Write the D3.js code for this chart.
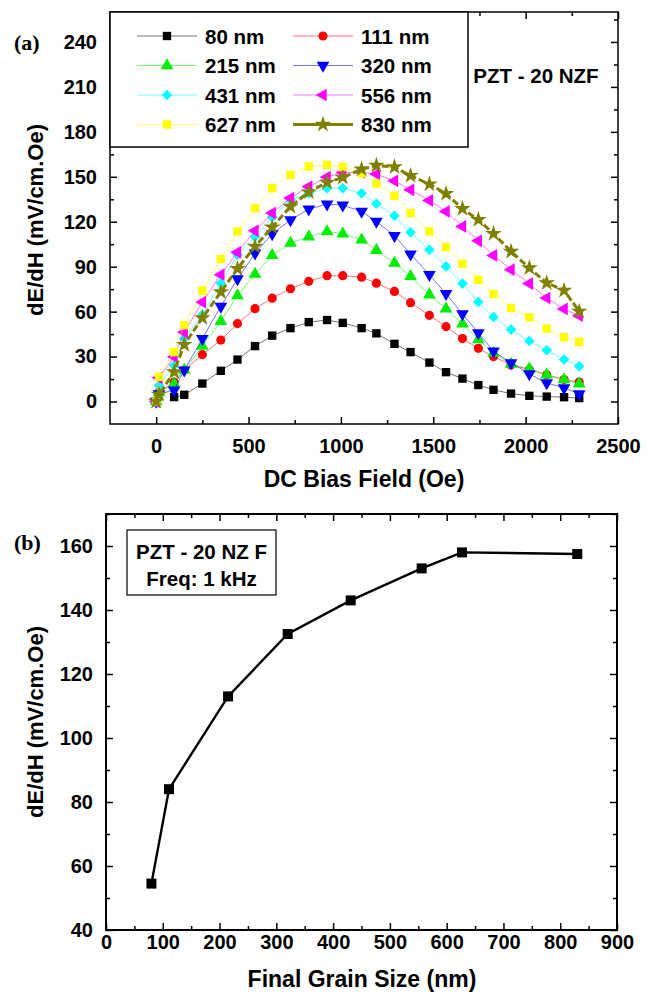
<!DOCTYPE html>
<html>
<head>
<meta charset="utf-8">
<script src="https://cdn.jsdelivr.net/npm/d3@7"></script>
<style>
  body { margin: 0; background: #fff; }
  svg { display: block; font-family: "Liberation Sans", Arial, sans-serif; font-weight: bold; }
</style>
</head>
<body>
<div id="chart"></div>
<script>
// panel (a): dE/dH vs DC bias field, one series per grain size
var fieldOe = [0, 15, 97, 152, 250, 350, 440, 535, 628, 727, 826, 925, 1010, 1112, 1192, 1290, 1377, 1479, 1569, 1658, 1744, 1826, 1921, 2020, 2114, 2208, 2290];
var grain80  = [0, null, 3, 4.5, 12, 20.5, 28, 37, 44, 49, 53, 54.4, 52.5, 49, 45.5, 38.5, 33, 26, 19.6, 15.3, 11, 7.8, 5.3, 3.8, 3.3, 2.9, 2.3];
var grain111 = [0, 6, 13, 21, 31.3, 41, 52, 62, 69, 75.3, 80.2, 84, 84, 83, 79, 73.5, 66, 57.5, 50, 42, 35.5, 30, 24.4, 21.3, 17.8, 14.7, 13];
var grain215 = [0, 6, 11.8, 21, 37, 53.5, 70.7, 85, 97.5, 105.8, 110, 113.5, 112, 108, 101, 92.4, 83.5, 71.3, 61.8, 51.8, 41.3, 32.4, 25, 21.8, 17.8, 14.7, 11.8];
var grain320 = [0, 5, 7.6, 21, 42, 63.5, 81.8, 99, 111.8, 121.3, 128.4, 131.8, 131, 126.9, 120.2, 110.7, 98.4, 84.7, 72, 58.4, 45.8, 33.6, 25.8, 18.4, 12.4, 9.1, 5.1];
var grain431 = [0, 10.7, 24, 42, 58, 79, 98, 110, 123, 134.7, 139, 142.4, 142.4, 139, 132, 124, 113, 101.3, 90.2, 78.7, 66.4, 56.4, 48, 40.4, 34.2, 28, 23.6];
var grain556 = [0, 15.8, 29.8, 46.2, 66.4, 84.7, 99.6, 114, 125.8, 135.8, 143.5, 149.8, 152.9, 153, 151.8, 147.3, 141.3, 134.2, 126.9, 116.9, 107.3, 97.5, 88, 78.7, 69.1, 61.8, 57.3];
var grain627 = [0, 16.5, 33, 50.9, 74, 95, 113.5, 129, 142.4, 151.3, 156.9, 158, 156.5, 152.4, 145.5, 137.3, 125.8, 113.5, 103, 92, 81.3, 71.8, 62.4, 56.2, 48.7, 42.9, 39.8];
var grain830 = [0, 4.7, 19.8, 38, 55.8, 73.1, 88.7, 103.5, 116.4, 130.2, 139.8, 146.2, 149.5, 155.1, 157.5, 156.5, 150.7, 145.1, 138.7, 128.7, 121.3, 112, 100.2, 89.1, 79.1, 74.2, 60.2];
var seriesNames = ["80 nm", "111 nm", "215 nm", "320 nm", "431 nm", "556 nm", "627 nm", "830 nm"];
var fieldTicks = [0, 500, 1000, 1500, 2000, 2500];
var dedhTicksA = [0, 30, 60, 90, 120, 150, 180, 210, 240];

// panel (b): peak dE/dH vs final grain size
var grainSize = [80, 111, 215, 320, 431, 556, 627, 830];
var peakDEdH = [54.5, 84, 113, 132.5, 143, 153, 158, 157.5];
var grainTicks = [0, 100, 200, 300, 400, 500, 600, 700, 800, 900];
var dedhTicksB = [40, 60, 80, 100, 120, 140, 160];

var svg = d3.select("#chart").append("svg")
    .attr("width", 650)
    .attr("height", 994);

// style for each series (colour, marker, rotation)
var styles = [
    {color: "#000000", sym: d3.symbolSquare, size: 70, rot: 0},
    {color: "#ff0000", sym: d3.symbolCircle, size: 66, rot: 0},
    {color: "#00ee00", sym: d3.symbolTriangle, size: 70, rot: 0},
    {color: "#0000ff", sym: d3.symbolTriangle, size: 70, rot: 180},
    {color: "#00ffff", sym: d3.symbolSquare, size: 56, rot: 45},
    {color: "#ff00ff", sym: d3.symbolTriangle, size: 70, rot: -90},
    {color: "#ffff00", sym: d3.symbolSquare, size: 70, rot: 0},
    {color: "#808000", sym: d3.symbolStar, size: 85, rot: 0}
];
var allSeries = [grain80, grain111, grain215, grain320, grain431, grain556, grain627, grain830];

/* draws the boxed frame with inward ticks on all four sides */
function drawFrame(g, x, y, xMajor, xMinor, yMajor, yMinor, frameW, xPad) {
    var w = x.range()[1], h = y.range()[0];
    g.append("g").attr("transform", "translate(0," + h + ")")
        .call(d3.axisBottom(x).tickValues(xMajor).tickSize(-7).tickPadding(xPad).tickFormat(d3.format("d")));
    g.append("g").attr("transform", "translate(0," + h + ")")
        .call(d3.axisBottom(x).tickValues(xMinor).tickSize(-4).tickFormat(""));
    g.append("g").call(d3.axisTop(x).tickValues(xMajor).tickSize(-7).tickFormat(""));
    g.append("g").call(d3.axisTop(x).tickValues(xMinor).tickSize(-4).tickFormat(""));
    g.append("g")
        .call(d3.axisLeft(y).tickValues(yMajor).tickSize(-7).tickPadding(13).tickFormat(d3.format("d")));
    g.append("g").call(d3.axisLeft(y).tickValues(yMinor).tickSize(-4).tickFormat(""));
    g.append("g").attr("transform", "translate(" + w + ",0)")
        .call(d3.axisRight(y).tickValues(yMajor).tickSize(-7).tickFormat(""));
    g.append("g").attr("transform", "translate(" + w + ",0)")
        .call(d3.axisRight(y).tickValues(yMinor).tickSize(-4).tickFormat(""));
    g.selectAll(".domain").remove();
    g.selectAll(".tick line").attr("stroke", "#000").attr("stroke-width", 1.5);
    g.selectAll(".tick text")
        .attr("font-size", 20)
        .attr("font-family", "Liberation Sans, Arial, sans-serif")
        .attr("font-weight", "bold")
        .attr("fill", "#000");
    g.append("rect")
        .attr("width", w).attr("height", h)
        .attr("fill", "none").attr("stroke", "#000").attr("stroke-width", frameW);
}

function symbolPath(s) {
    return d3.symbol().type(s.sym).size(s.size)();
}

// ---------- panel (a) ----------
var posA = {left: 110, top: 12, width: 508, height: 412};
var gA = svg.append("g").attr("transform", "translate(" + posA.left + "," + posA.top + ")");
var xA = d3.scaleLinear().domain([-250, 2500]).range([0, posA.width]);
var yA = d3.scaleLinear().domain([-15, 260]).range([posA.height, 0]);

drawFrame(gA, xA, yA, fieldTicks, [250, 750, 1250, 1750, 2250],
    dedhTicksA, [15, 45, 75, 105, 135, 165, 195, 225, 255], 1.5, 15);

var lineA = d3.line()
    .defined(function (d) { return d[1] !== null; })
    .x(function (d) { return xA(d[0]); })
    .y(function (d) { return yA(d[1]); });

allSeries.forEach(function (vals, i) {
    var s = styles[i];
    var pts = fieldOe.map(function (f, k) { return [f, vals[k]]; });
    var last = i === 7;
    gA.append("path")
        .attr("d", lineA(pts))
        .attr("fill", "none")
        .attr("stroke", s.color)
        .attr("stroke-opacity", last ? 1 : 0.55)
        .attr("stroke-width", last ? 3 : 1)
        .attr("stroke-dasharray", last ? "7,3" : null);
    gA.append("g").selectAll("path")
        .data(pts.filter(function (d) { return d[1] !== null; }))
        .enter().append("path")
        .attr("d", symbolPath(s))
        .attr("fill", s.color)
        .attr("transform", function (d) {
            return "translate(" + xA(d[0]) + "," + yA(d[1]) + ") rotate(" + s.rot + ")";
        });
});

// legend box
var legend = gA.append("g");
legend.append("rect")
    .attr("x", 0).attr("y", 0).attr("width", 358).attr("height", 135)
    .attr("fill", "#fff").attr("stroke", "#000").attr("stroke-width", 1.5);
seriesNames.forEach(function (name, i) {
    var s = styles[i];
    var col = i % 2, row = Math.floor(i / 2);
    var lx = col === 0 ? 27 : 183;
    var ly = 24 + row * 29.5;
    legend.append("line")
        .attr("x1", lx).attr("x2", lx + 60).attr("y1", ly).attr("y2", ly)
        .attr("stroke", s.color)
        .attr("stroke-opacity", i === 7 ? 1 : 0.55)
        .attr("stroke-width", i === 7 ? 3 : 1);
    legend.append("path")
        .attr("d", symbolPath(s))
        .attr("fill", s.color)
        .attr("transform", "translate(" + (lx + 30) + "," + ly + ") rotate(" + s.rot + ")");
    legend.append("text")
        .attr("x", lx + 68).attr("y", ly + 7.5)
        .attr("font-size", 20.5)
        .text(name);
});

gA.append("text")
    .attr("x", 426).attr("y", 71)
    .attr("text-anchor", "middle")
    .attr("font-size", 20.5)
    .text("PZT - 20 NZF");

svg.append("text")
    .attr("x", 14).attr("y", 50)
    .attr("font-family", "Liberation Serif, Times New Roman, serif")
    .attr("font-size", 22)
    .text("(a)");

svg.append("text")
    .attr("x", 364).attr("y", 487)
    .attr("text-anchor", "middle")
    .attr("font-size", 23)
    .text("DC Bias Field (Oe)");

svg.append("text")
    .attr("transform", "translate(43," + 220 + ") rotate(-90)")
    .attr("text-anchor", "middle")
    .attr("font-size", 22)
    .text("dE/dH (mV/cm.Oe)");

// ---------- panel (b) ----------
var posB = {left: 106, top: 514, width: 511, height: 416};
var gB = svg.append("g").attr("transform", "translate(" + posB.left + "," + posB.top + ")");
var xB = d3.scaleLinear().domain([0, 900]).range([0, posB.width]);
var yB = d3.scaleLinear().domain([40, 170]).range([posB.height, 0]);

drawFrame(gB, xB, yB, grainTicks, [50, 150, 250, 350, 450, 550, 650, 750, 850],
    dedhTicksB, [50, 70, 90, 110, 130, 150, 170], 2, 5);

var lineB = d3.line()
    .x(function (d, i) { return xB(grainSize[i]); })
    .y(function (d) { return yB(d); });

gB.append("path")
    .attr("d", lineB(peakDEdH))
    .attr("fill", "none")
    .attr("stroke", "#000")
    .attr("stroke-width", 2.4);

gB.append("g").selectAll("path")
    .data(peakDEdH)
    .enter().append("path")
    .attr("d", d3.symbol().type(d3.symbolSquare).size(100)())
    .attr("fill", "#000")
    .attr("transform", function (d, i) {
        return "translate(" + xB(grainSize[i]) + "," + yB(d) + ")";
    });

gB.append("rect")
    .attr("x", 21).attr("y", 16).attr("width", 149).attr("height", 65)
    .attr("fill", "#fff").attr("stroke", "#000").attr("stroke-width", 1.2);
gB.append("text")
    .attr("x", 95.5).attr("y", 45)
    .attr("text-anchor", "middle").attr("font-size", 20.5)
    .text("PZT - 20 NZ F");
gB.append("text")
    .attr("x", 95.5).attr("y", 72)
    .attr("text-anchor", "middle").attr("font-size", 20.5)
    .text("Freq: 1 kHz");

svg.append("text")
    .attr("x", 14).attr("y", 550)
    .attr("font-family", "Liberation Serif, Times New Roman, serif")
    .attr("font-size", 22)
    .text("(b)");

svg.append("text")
    .attr("x", 362).attr("y", 987)
    .attr("text-anchor", "middle")
    .attr("font-size", 23)
    .text("Final Grain Size (nm)");

svg.append("text")
    .attr("transform", "translate(43," + 722 + ") rotate(-90)")
    .attr("text-anchor", "middle")
    .attr("font-size", 22)
    .text("dE/dH (mV/cm.Oe)");
</script>
</body>
</html>
